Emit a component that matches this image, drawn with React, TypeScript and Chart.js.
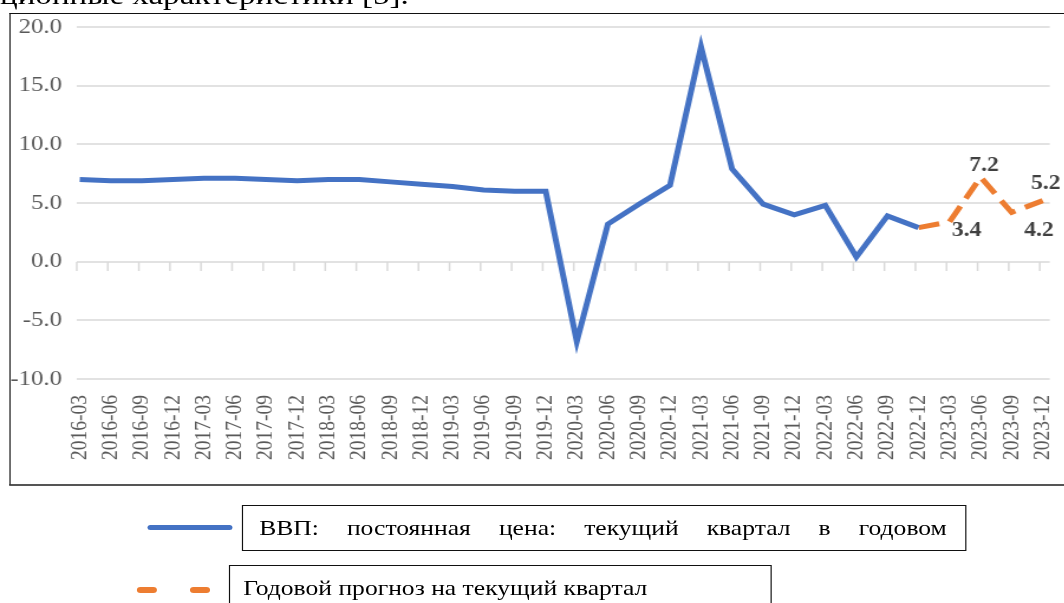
import React, { useEffect, useRef } from "react";
import { Chart, registerables } from "chart.js";

Chart.register(...registerables);

// ---- data ----
const categories = [
  "2016-03", "2016-06", "2016-09", "2016-12",
  "2017-03", "2017-06", "2017-09", "2017-12",
  "2018-03", "2018-06", "2018-09", "2018-12",
  "2019-03", "2019-06", "2019-09", "2019-12",
  "2020-03", "2020-06", "2020-09", "2020-12",
  "2021-03", "2021-06", "2021-09", "2021-12",
  "2022-03", "2022-06", "2022-09", "2022-12",
  "2023-03", "2023-06", "2023-09", "2023-12",
];

const gdpActual = [
  7.0, 6.9, 6.9, 7.0,
  7.1, 7.1, 7.0, 6.9,
  7.0, 7.0, 6.8, 6.6,
  6.4, 6.1, 6.0, 6.0,
  -6.8, 3.2, 4.9, 6.5,
  18.3, 7.9, 4.9, 4.0,
  4.8, 0.4, 3.9, 2.9,
];

const gdpForecast = [
  null, null, null, null,
  null, null, null, null,
  null, null, null, null,
  null, null, null, null,
  null, null, null, null,
  null, null, null, null,
  null, null, null, 2.9,
  3.4, 7.2, 4.2, 5.2,
];

const forecastLabelIdx = [28, 29, 30, 31];

const yTickMin = -10;
const yTickMax = 20;
const yTickStep = 5;

const seriesNames = [
  "ВВП: постоянная цена: текущий квартал в годовом",
  "Годовой прогноз на текущий квартал",
];
const headerText = "ционные характеристики [5].";

// ---- style ----
const S = 1.18; // horizontal stretch of the reference picture
const px = (x: number) => x / S;
const BLUE = "#4472C4";
const ORANGE = "#ED7D31";
const GRID = "#d9d9d9";
const TICK = "#595959";
const SERIF = "'Liberation Serif', 'Times New Roman', serif";

// label offsets (unstretched canvas px) relative to point: [dx, dy]
const LABEL_OFFSETS: Record<number, [number, number]> = {
  28: [14.5, 9],
  29: [3, -11],
  30: [23, 18],
  31: [2.5, -17],
};

const gridPlugin = {
  id: "customGrid",
  beforeDatasetsDraw(chart: any) {
    const { ctx, chartArea, scales } = chart;
    const y = scales.y;
    const x = scales.x;
    ctx.save();
    ctx.strokeStyle = GRID;
    ctx.lineWidth = 1.5;
    y.ticks.forEach((t: any) => {
      const yy = Math.round(y.getPixelForValue(t.value));
      ctx.beginPath();
      ctx.moveTo(chartArea.left - px(3), yy);
      ctx.lineTo(chartArea.right + px(7), yy);
      ctx.stroke();
    });
    const y0 = Math.round(y.getPixelForValue(0));
    categories.forEach((_c, i) => {
      const xx = x.getPixelForValue(i) - px(3);
      ctx.beginPath();
      ctx.moveTo(xx, y0);
      ctx.lineTo(xx, y0 + 9);
      ctx.stroke();
    });
    ctx.restore();
  },
};

const labelPlugin = {
  id: "forecastLabels",
  afterDatasetsDraw(chart: any) {
    const { ctx } = chart;
    const meta = chart.getDatasetMeta(1);
    ctx.save();
    ctx.font = `bold 20px ${SERIF}`;
    ctx.fillStyle = "#404040";
    ctx.textAlign = "center";
    ctx.textBaseline = "middle";
    forecastLabelIdx.forEach((i) => {
      const el = meta.data[i];
      const v = gdpForecast[i];
      if (!el || v == null) return;
      const [dx, dy] = LABEL_OFFSETS[i] || [0, -12];
      ctx.fillText(v.toFixed(1), el.x + dx, el.y + dy);
    });
    ctx.restore();
  },
};

function GdpChart() {
  const ref = useRef<HTMLCanvasElement | null>(null);
  useEffect(() => {
    if (!ref.current) return;
    const chart = new Chart(ref.current, {
      type: "line",
      data: {
        labels: categories,
        datasets: [
          {
            label: seriesNames[0],
            data: gdpActual,
            borderColor: BLUE,
            backgroundColor: BLUE,
            borderWidth: 5,
            pointRadius: 0,
            tension: 0,
            fill: false,
          },
          {
            label: seriesNames[1],
            data: gdpForecast as any,
            borderColor: ORANGE,
            backgroundColor: ORANGE,
            borderWidth: 5,
            borderDash: [18, 9],
            pointRadius: 0,
            tension: 0,
            fill: false,
            spanGaps: false,
          },
        ],
      },
      options: {
        responsive: true,
        maintainAspectRatio: false,
        animation: false,
        devicePixelRatio: 1,
        layout: { padding: { top: 13, right: 18.7, bottom: 0, left: 0 } },
        plugins: { legend: { display: false }, tooltip: { enabled: false } },
        scales: {
          x: {
            offset: false,
            grid: { display: false, drawTicks: false },
            border: { display: false },
            ticks: {
              autoSkip: false,
              maxRotation: 90,
              minRotation: 90,
              padding: 16,
              color: TICK,
              font: { family: SERIF, size: 19.5 },
            },
            afterFit: (s: any) => {
              s.height = 105;
              s.paddingLeft = 0;
              s.paddingRight = 0;
            },
          },
          y: {
            min: yTickMin,
            max: yTickMax,
            grid: { display: false, drawTicks: false },
            border: { display: false },
            ticks: {
              stepSize: yTickStep,
              padding: 15,
              color: TICK,
              font: { family: SERIF, size: 21 },
              callback: (v: any) => Number(v).toFixed(1),
            },
            afterFit: (s: any) => {
              s.width = 58.5;
              s.paddingTop = 0;
              s.paddingBottom = 0;
            },
          },
        },
      },
      plugins: [gridPlugin, labelPlugin],
    });
    return () => chart.destroy();
  }, []);
  return <canvas ref={ref} />;
}

export default function App() {
  const abs: React.CSSProperties = { position: "absolute" };
  return (
    <div
      style={{
        position: "fixed",
        left: 0,
        top: 0,
        width: 1064,
        height: 603,
        overflow: "hidden",
        background: "#fff",
      }}
    >
      <div
        style={{
          ...abs,
          left: 0,
          top: 0,
          width: 1064 / S,
          height: 603,
          transform: `scaleX(${S})`,
          transformOrigin: "0 0",
          fontFamily: SERIF,
        }}
      >
        <div
          style={{
            ...abs,
            left: 0,
            top: -19,
            fontSize: 28,
            lineHeight: "28px",
            whiteSpace: "nowrap",
            color: "#000",
          }}
        >
          {headerText}
        </div>
        <div
          style={{
            ...abs,
            left: px(10),
            top: 13,
            width: px(1064 - 10) + 20,
            height: 473,
            boxSizing: "border-box",
            borderLeft: "1px solid #111",
            borderTop: "1px solid #111",
            borderBottom: "2px solid #555",
          }}
        />
        <div style={{ ...abs, left: px(11), top: 14, width: px(1053), height: 470 }}>
          <GdpChart />
        </div>
        {/* legend */}
        <div
          style={{
            ...abs,
            left: px(148),
            top: 524.5,
            width: px(84),
            height: 5,
            borderRadius: 3,
            background: BLUE,
          }}
        />
        <div
          style={{
            ...abs,
            left: px(242),
            top: 505,
            width: px(725),
            height: 46,
            boxSizing: "border-box",
            border: "1px solid #111",
          }}
        >
          <div
            style={{
              ...abs,
              left: px(16),
              right: px(19),
              top: 0,
              lineHeight: "44px",
              fontSize: 21.7,
              color: "#000",
              textAlign: "justify",
              textAlignLast: "justify" as any,
              whiteSpace: "nowrap",
            }}
          >
            {seriesNames[0]}
          </div>
        </div>
        <div
          style={{
            ...abs,
            left: px(137),
            top: 587,
            width: px(20),
            height: 6,
            borderRadius: 3,
            background: ORANGE,
          }}
        />
        <div
          style={{
            ...abs,
            left: px(190),
            top: 587,
            width: px(20),
            height: 6,
            borderRadius: 3,
            background: ORANGE,
          }}
        />
        <div
          style={{
            ...abs,
            left: px(229),
            top: 565,
            width: px(543),
            height: 60,
            boxSizing: "border-box",
            border: "1px solid #111",
          }}
        >
          <div
            style={{
              ...abs,
              left: px(13),
              top: 11,
              lineHeight: "22px",
              fontSize: 21.7,
              color: "#000",
              whiteSpace: "nowrap",
            }}
          >
            {seriesNames[1]}
          </div>
        </div>
      </div>
    </div>
  );
}
